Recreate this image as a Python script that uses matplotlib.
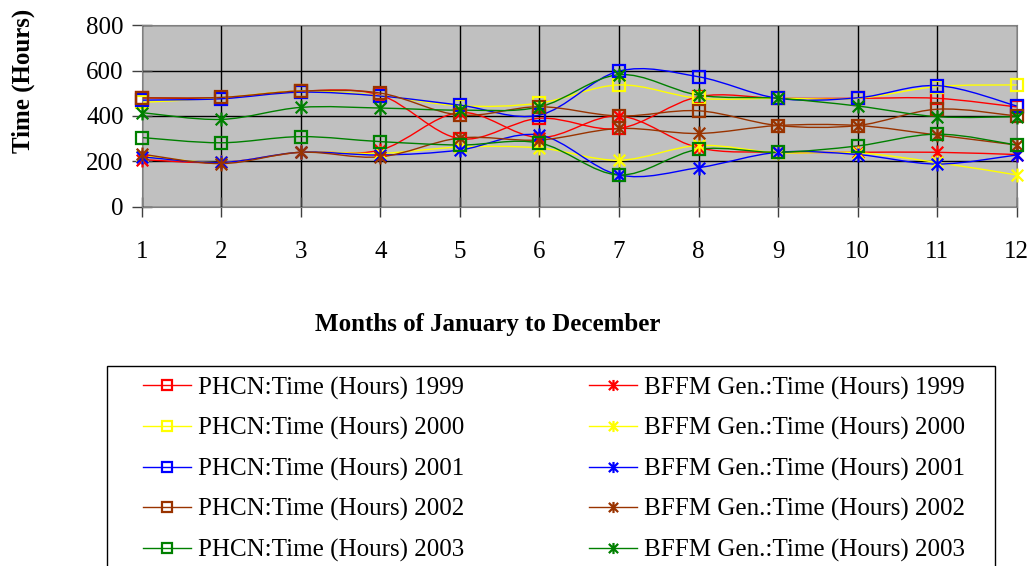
import numpy as np
import matplotlib
matplotlib.use("Agg")
import matplotlib.pyplot as plt
from matplotlib.path import Path
from matplotlib.patches import PathPatch, Rectangle
from matplotlib.lines import Line2D

plt.rcParams["font.family"] = ["Liberation Serif", "DejaVu Serif"]

months = list(range(1, 13))
years = ["1999", "2000", "2001", "2002", "2003"]
colors = ["#FF0000", "#FFFF00", "#0000FF", "#993300", "#008000"]

phcn_1999 = [480, 480, 510, 492, 300, 390, 345, 485, 478, 478, 478, 440]
bffm_1999 = [208, 195, 240, 250, 415, 305, 400, 260, 240, 240, 240, 230]
phcn_2000 = [460, 480, 510, 490, 445, 457, 537, 478, 478, 478, 530, 537]
bffm_2000 = [225, 195, 240, 235, 263, 259, 205, 270, 238, 238, 195, 140]
phcn_2001 = [470, 476, 505, 488, 448, 404, 598, 573, 478, 480, 534, 444]
bffm_2001 = [220, 195, 240, 228, 250, 316, 140, 172, 240, 230, 188, 228]
phcn_2002 = [480, 482, 510, 501, 404, 441, 400, 423, 358, 358, 430, 400]
bffm_2002 = [232, 190, 240, 220, 303, 294, 345, 323, 358, 358, 316, 272]
phcn_2003 = [305, 282, 309, 287, 272, 281, 140, 253, 240, 268, 320, 272]
bffm_2003 = [415, 385, 438, 435, 426, 440, 582, 492, 478, 444, 397, 397]

phcn = [phcn_1999, phcn_2000, phcn_2001, phcn_2002, phcn_2003]
bffm = [bffm_1999, bffm_2000, bffm_2001, bffm_2002, bffm_2003]

# star marker: an X with a vertical bar through it
STAR = Path([(-1, -1), (1, 1), (-1, 1), (1, -1), (0, -1.2), (0, 1.2)],
            [Path.MOVETO, Path.LINETO] * 3)


def smooth_path(x, y):
    # bezier smoothing similar to spreadsheet "smoothed line"
    pts = np.column_stack([x, y]).astype(float)
    n = len(pts)
    verts = [pts[0]]
    codes = [Path.MOVETO]
    for i in range(n - 1):
        p0 = pts[i - 1] if i > 0 else pts[i]
        p1, p2 = pts[i], pts[i + 1]
        p3 = pts[i + 2] if i + 2 < n else pts[i + 1]
        verts += [p1 + (p2 - p0) / 6, p2 - (p3 - p1) / 6, p2]
        codes += [Path.CURVE4] * 3
    return Path(verts, codes)


fig = plt.figure(figsize=(10.31, 5.66), dpi=100)
ax = fig.add_axes([141.7 / 1031, 1 - 206.7 / 566, 875 / 1031, 181.4 / 566])
ax.set_facecolor("#C0C0C0")

for k in range(5):
    for vals, mk, ms in ((phcn[k], "s", 9), (bffm[k], STAR, 10)):
        ax.add_patch(PathPatch(smooth_path(months, vals), fill=False,
                               edgecolor=colors[k], lw=1.0, zorder=2))
        ax.plot(months, vals, linestyle="none", marker=mk, ms=ms,
                mfc="none", mec=colors[k], mew=1.6, zorder=3, clip_on=False)

ax.set_xlim(1, 12)
ax.set_ylim(0, 800)
ax.set_xticks(months)
ax.set_yticks(range(0, 801, 200))
ax.grid(True, color="black", lw=1.0)
ax.set_axisbelow(True)
for s in ax.spines.values():
    s.set_color("#808080")
ax.tick_params(direction="inout", length=14, width=1, color="#404040",
               labelsize=18, pad=6)
ax.tick_params(axis="x", pad=18)

fig.text(23 / 1031, 1 - 81 / 566, "Time (Hours)", rotation=90, ha="center",
         va="center", fontsize=18, fontweight="bold")
fig.text(488 / 1031, 1 - 325 / 566, "Months of January to December",
         ha="center", va="center", fontsize=18, fontweight="bold")

# legend frame (runs past the bottom edge)
fig.patches.append(Rectangle((107 / 1031, -0.1), 888 / 1031, 0.1 + 1 - 366 / 566,
                             transform=fig.transFigure, fill=False,
                             edgecolor="black", lw=1.0))

ph_handles = [Line2D([], [], color=c, lw=1, marker="s", ms=7, mfc="none",
                     mec=c, mew=1.6) for c in colors]
bf_handles = [Line2D([], [], color=c, lw=1, marker=STAR, ms=8, mfc="none",
                     mec=c, mew=1.6) for c in colors]
ph_labels = ["PHCN:Time (Hours) " + y for y in years]
bf_labels = ["BFFM Gen.:Time (Hours) " + y for y in years]

common = dict(frameon=False, fontsize=18, loc="upper left", borderpad=0,
              borderaxespad=0, handlelength=1.9, handletextpad=0.3,
              labelspacing=0.7)
fig.legend(ph_handles, ph_labels,
           bbox_to_anchor=(143 / 1031, 1 - 376.5 / 566), **common)
fig.legend(bf_handles, bf_labels,
           bbox_to_anchor=(589 / 1031, 1 - 376.5 / 566), **common)

plt.savefig("out.png", dpi=100)
plt.close()
